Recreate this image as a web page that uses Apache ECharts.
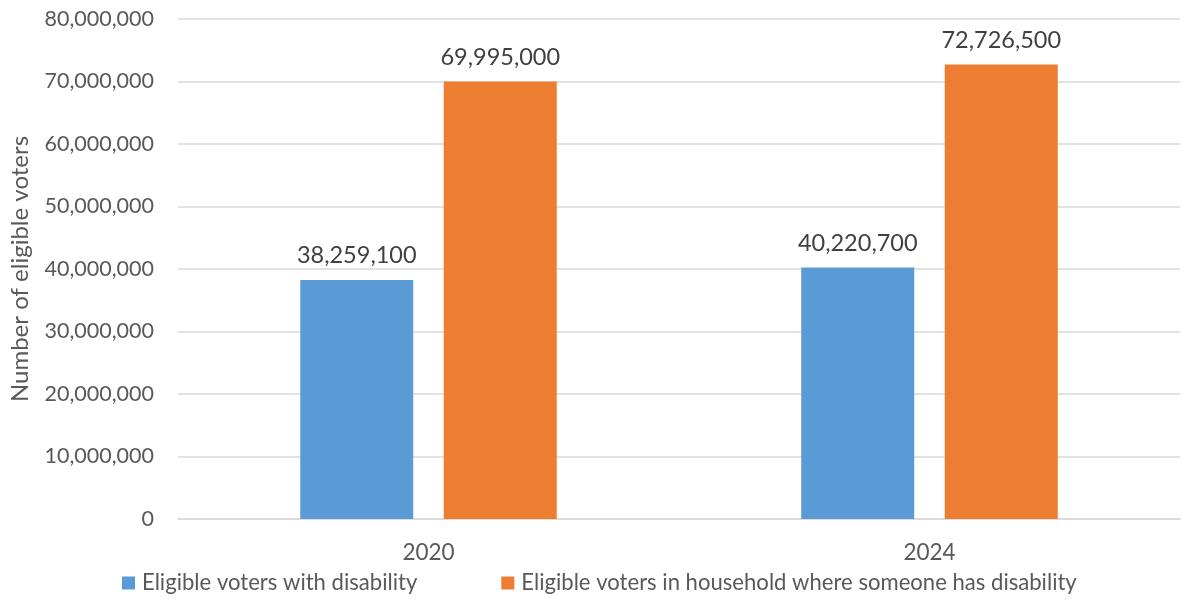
<!DOCTYPE html>
<html><head><meta charset="utf-8">
<script src="https://cdn.jsdelivr.net/npm/echarts@6/dist/echarts.min.js"></script>
<style>html,body{margin:0;padding:0;background:#fff}#c{width:1183px;height:602px}</style>
</head><body><div id="c"></div>
<script>
const categories = ['2020', '2024'];
const seriesNames = ['Eligible voters with disability', 'Eligible voters in household where someone has disability'];
const withDisability = [38259100, 40220700];
const inHousehold = [69995000, 72726500];
const colors = ['#5B9BD5', '#ED7D31'];
const FONT = 'Lato';
const fmt = v => v.toLocaleString('en-US');
const chart = echarts.init(document.getElementById('c'));
chart.setOption({
  animation: false,
  textStyle: { fontFamily: FONT },
  grid: { left: 175, right: 3, top: 19, bottom: 83, containLabel: false },
  legend: {
    bottom: 3, left: 117, itemWidth: 13, itemHeight: 13, itemGap: 84,
    icon: 'rect',
    textStyle: { fontFamily: FONT, fontSize: 22.1, color: '#595959', padding: [0, 0, 0, 2] },
    data: seriesNames
  },
  xAxis: {
    type: 'category', data: categories,
    axisLine: { lineStyle: { color: '#D9D9D9', width: 1.5 } },
    axisTick: { show: false },
    axisLabel: { fontFamily: FONT, fontSize: 22.5, color: '#595959', margin: 22 }
  },
  yAxis: {
    type: 'value', min: 0, max: 80000000, interval: 10000000,
    name: 'Number of eligible voters', nameLocation: 'middle', nameGap: 146,
    nameTextStyle: { fontFamily: FONT, fontSize: 24, color: '#595959' },
    axisLabel: { fontFamily: FONT, fontSize: 21.5, color: '#595959', margin: 24, formatter: fmt },
    splitLine: { lineStyle: { color: '#D9D9D9', width: 1.5 } }
  },
  series: [
    { name: seriesNames[0], type: 'bar', data: withDisability, barWidth: 113, barGap: '27%',
      itemStyle: { color: colors[0] },
      label: { show: true, position: 'top', distance: 12, fontFamily: FONT, fontSize: 23.5, color: '#404040', formatter: p => fmt(p.value) } },
    { name: seriesNames[1], type: 'bar', data: inHousehold, barWidth: 113, barGap: '27%',
      itemStyle: { color: colors[1] },
      label: { show: true, position: 'top', distance: 12, fontFamily: FONT, fontSize: 23.5, color: '#404040', formatter: p => fmt(p.value) } }
  ]
});
</script></body></html>
